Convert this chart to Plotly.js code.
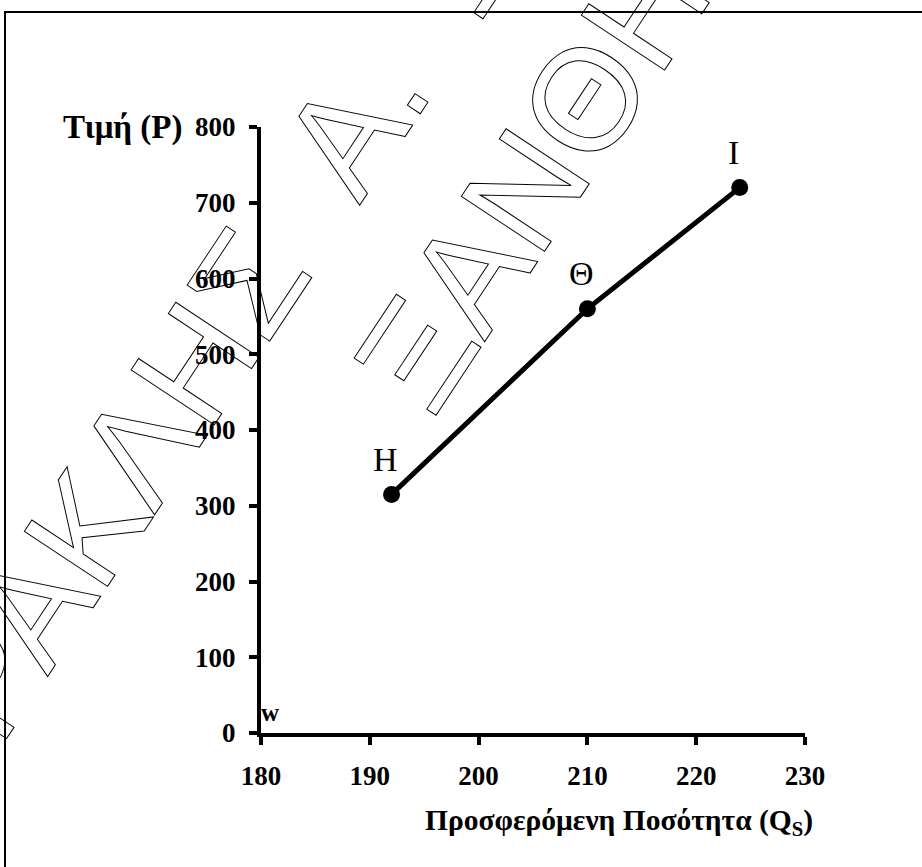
<!DOCTYPE html>
<html>
<head>
<meta charset="utf-8">
<script src="https://cdn.plot.ly/plotly-3.0.1.min.js"></script>
<style>
  html, body { margin: 0; padding: 0; background: #fff; }
  #chart { width: 922px; height: 867px; }
</style>
</head>
<body>
<div id="chart"></div>
<script>
// ---- data ----
const quantity = [192, 210, 224];          // Προσφερόμενη Ποσότητα (Qs)
const price = [315, 560, 720];             // Τιμή (P)
const pointLabels = ['Η', 'Θ', 'Ι'];
const xTickVals = [180, 190, 200, 210, 220, 230];
const yTickVals = [0, 100, 200, 300, 400, 500, 600, 700, 800];
const xTitle = 'Προσφερόμενη Ποσότητα (Q<sub>S</sub>)';
const yTitle = 'Τιμή (P)';
const watermarkLines = ['ΗΡΑΚΛΗΣ\u00a0\u00a0Α.\u00a0\u00a0ΞΑΝΘ', 'ΞΑΝΘΗΣ'];

// ---- geometry helpers (plot area in px) ----
const W = 922, H = 867;
const L = 261, R = 117, T = 127, B = 134;
const pw = W - L - R, ph = H - T - B;
const px2paperX = x => (x - L) / pw;
const px2paperY = y => (H - B - y) / ph;

const serif = 'Liberation Serif, Times New Roman, serif';

const trace = {
  x: quantity,
  y: price,
  type: 'scatter',
  mode: 'lines+markers',
  line: { color: '#000', width: 5 },
  marker: { color: '#000', size: 17 },
  cliponaxis: false,
  hoverinfo: 'skip'
};

const annotations = [];
// watermark (outlined text)
const wmCenters = [[282, 232], [557, 142]];
watermarkLines.forEach((t, i) => {
  annotations.push({
    xref: 'paper', yref: 'paper',
    x: px2paperX(wmCenters[i][0]), y: px2paperY(wmCenters[i][1]),
    xanchor: 'center', yanchor: 'middle',
    text: t, showarrow: false, textangle: -56.5,
    font: { family: 'Liberation Sans, Arial, sans-serif', size: 145, color: '#000' }
  });
});
// point labels
quantity.forEach((q, i) => {
  annotations.push({
    x: q, y: price[i], xref: 'x', yref: 'y',
    xanchor: 'center', yanchor: 'middle',
    text: pointLabels[i], showarrow: false,
    xshift: -6, yshift: 35,
    font: { family: serif, size: 34, color: '#000' }
  });
});
// axis titles
annotations.push({
  xref: 'paper', yref: 'paper',
  x: px2paperX(184), y: px2paperY(128),
  xanchor: 'right', yanchor: 'middle',
  text: yTitle, showarrow: false,
  font: { family: serif, size: 33, color: '#000', weight: 'bold' }
});
annotations.push({
  xref: 'paper', yref: 'paper',
  x: px2paperX(815), y: px2paperY(822),
  xanchor: 'right', yanchor: 'middle',
  text: xTitle, showarrow: false,
  font: { family: serif, size: 29.5, color: '#000', weight: 'bold' }
});
// axis break mark
annotations.push({
  x: xTickVals[0], y: yTickVals[0], xref: 'x', yref: 'y',
  xanchor: 'center', yanchor: 'middle',
  text: 'w', showarrow: false, xshift: 9, yshift: 21,
  font: { family: serif, size: 25, color: '#000', weight: 'bold' }
});

const layout = {
  width: W, height: H,
  margin: { l: L, r: R, t: T, b: B, pad: 0 },
  paper_bgcolor: '#fff', plot_bgcolor: 'rgba(0,0,0,0)',
  showlegend: false,
  xaxis: {
    range: [180, 230], tickvals: xTickVals,
    showgrid: false, zeroline: false,
    showline: true, linecolor: '#000', linewidth: 4,
    ticks: 'outside', ticklen: 8, tickwidth: 4, tickcolor: '#000',
    ticklabelstandoff: 8,
    tickfont: { family: serif, size: 27, color: '#000', weight: 'bold' }
  },
  yaxis: {
    range: [0, 800], tickvals: yTickVals,
    showgrid: false, zeroline: false,
    showline: true, linecolor: '#000', linewidth: 4,
    ticks: 'outside', ticklen: 8, tickwidth: 4, tickcolor: '#000',
    ticklabelstandoff: 8,
    tickfont: { family: serif, size: 27, color: '#000', weight: 'bold' }
  },
  shapes: [{
    type: 'rect', xref: 'paper', yref: 'paper',
    x0: px2paperX(5), x1: px2paperX(940),
    y0: px2paperY(900), y1: px2paperY(12),
    line: { color: '#000', width: 2 }, fillcolor: 'rgba(0,0,0,0)'
  }],
  annotations: annotations
};

Plotly.newPlot('chart', [trace], layout, { staticPlot: true }).then(() => {
  const anns = document.querySelectorAll('#chart .annotation');
  for (let i = 0; i < watermarkLines.length && i < anns.length; i++) {
    const t = anns[i].querySelector('text');
    if (t) {
      t.style.fill = 'none';
      t.style.stroke = '#000';
      t.style.strokeWidth = '1px';
    }
  }
});
</script>
</body>
</html>
